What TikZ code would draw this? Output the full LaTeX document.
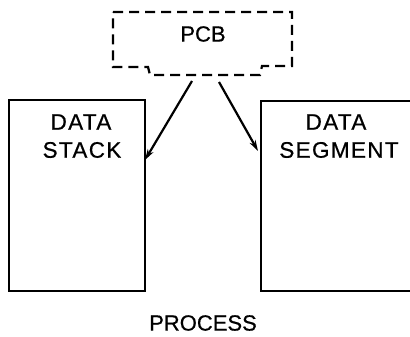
\documentclass[tikz,border=0pt]{standalone}
\usepackage{fontspec}
\setmainfont{Liberation Sans}
\usetikzlibrary{arrows.meta}
\begin{document}
\begin{tikzpicture}[x=1pt,y=-1pt,
  boxline/.style={line width=2pt},
  pcbline/.style={line width=2.2pt, dash pattern=on 10pt off 6pt},
  lbl/.style={font=\fontsize{22.5}{26}\selectfont\addfontfeature{LetterSpace=6,FakeBold=0.6}, inner sep=0pt, anchor=center},
  lbls/.style={font=\fontsize{22}{26}\selectfont\addfontfeature{FakeBold=0.6}, inner sep=0pt, anchor=center},
  arr/.style={line width=2.2pt, -{Stealth[length=11pt,width=6.5pt]}}]
\useasboundingbox (0,0) rectangle (410,337);
\clip (0,0) rectangle (410,337);
% PCB dashed box
\draw[pcbline] (113,12) -- (292,12) -- (292,66) -- (262,66) -- (260,75) -- (150,75) -- (148,67) -- (113,67) -- cycle;
\node[lbls] (pcb) at (203,34) {PCB};
% left box
\node[boxline, draw, minimum width=136pt, minimum height=191pt, inner sep=0pt] (stack) at (77,195.5) {};
\node[lbl] (stack1) at (81,122) {DATA};
\node[lbl] (stack2) at (82,150) {STACK};
% right box (extends beyond right edge)
\coordinate (segtr) at (420,101);
\coordinate (segtl) at (261,101);
\coordinate (segbl) at (261,291);
\coordinate (segbr) at (420,291);
\draw[boxline] (segtr) -- (segtl) -- (segbl) -- (segbr);
\node[lbl] (seg1) at (336,122) {DATA};
\node[lbl] (seg2) at (339,150) {SEGMENT};
% arrows
\coordinate (a1s) at (192,81);
\coordinate (a1e) at (145,160);
\coordinate (a2s) at (219,82);
\coordinate (a2e) at (258,151);
\draw[arr] (a1s) -- (a1e);
\draw[arr] (a2s) -- (a2e);
\node[lbls] (proc) at (203,323) {PROCESS};
\end{tikzpicture}
\end{document}
